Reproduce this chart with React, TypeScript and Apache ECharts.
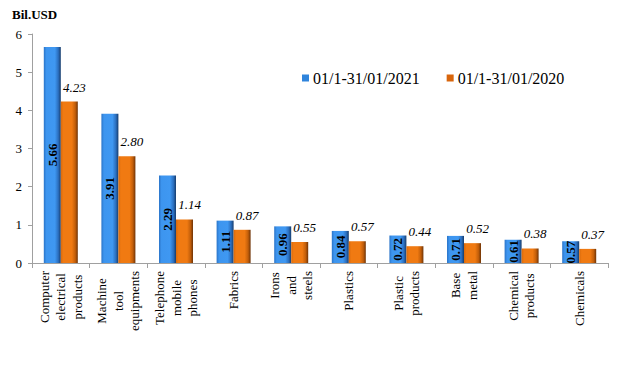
import React, { useEffect, useRef } from "react";
import * as echarts from "echarts";

const categories = [
  "Computer\nelectrical\nproducts",
  "Machine\ntool\nequipments",
  "Telephone\nmobile\nphones",
  "Fabrics",
  "Irons\nand\nsteels",
  "Plastics",
  "Plastic\nproducts",
  "Base\nmetal",
  "Chemical\nproducts",
  "Chemicals",
];
const series2021 = [5.66, 3.91, 2.29, 1.11, 0.96, 0.84, 0.72, 0.71, 0.61, 0.57];
const series2020 = [4.23, 2.8, 1.14, 0.87, 0.55, 0.57, 0.44, 0.52, 0.38, 0.37];
const seriesNames = ["01/1-31/01/2021", "01/1-31/01/2020"];
const yTicks = { min: 0, max: 6, interval: 1 };

const FONT = "'Liberation Serif', 'Times New Roman', serif";

export default function App() {
  const ref = useRef<HTMLDivElement>(null);
  useEffect(() => {
    if (!ref.current) return;
    const chart = echarts.init(ref.current, null, { renderer: "svg" });
    const blue = new echarts.graphic.LinearGradient(0, 0, 1, 0, [
      { offset: 0, color: "#2a74c8" },
      { offset: 0.15, color: "#3d95ef" },
      { offset: 0.65, color: "#3f98f2" },
      { offset: 0.85, color: "#2b6fbf" },
      { offset: 1, color: "#163c6c" },
    ]);
    const orange = new echarts.graphic.LinearGradient(0, 0, 1, 0, [
      { offset: 0, color: "#d86a0c" },
      { offset: 0.15, color: "#f07a12" },
      { offset: 0.65, color: "#f07a12" },
      { offset: 0.85, color: "#c25e0a" },
      { offset: 1, color: "#6e3306" },
    ]);
    chart.setOption({
      animation: false,
      textStyle: { fontFamily: FONT },
      grid: { left: 32, right: 16, top: 34, bottom: 102, containLabel: false },
      graphic: [
        {
          type: "text",
          left: 12,
          top: 8,
          style: {
            text: "Bil.USD",
            font: `bold 13px ${FONT}`,
            fill: "#000",
          },
        },
      ],
      legend: {
        left: 297,
        top: 65,
        itemWidth: 7,
        itemHeight: 7,
        itemGap: 27,
        icon: "rect",
        textStyle: { fontFamily: FONT, fontSize: 16, color: "#000", padding: [0, 0, 0, -1] },
        data: [
          { name: seriesNames[0], itemStyle: { color: "#2f84dc" } },
          { name: seriesNames[1], itemStyle: { color: "#d8650c" } },
        ],
      },
      xAxis: {
        type: "category",
        data: categories,
        axisLine: { show: true, lineStyle: { color: "#a0a0a0" } },
        axisTick: { show: true, length: 5, lineStyle: { color: "#a0a0a0" } },
        axisLabel: {
          rotate: 90,
          margin: 8,
          interval: 0,
          fontFamily: FONT,
          fontSize: 13,
          color: "#000",
          lineHeight: 16.5,
          formatter: (v: string) =>
            v
              .split("\n")
              .map((l) => `{c|${l}}`)
              .join("\n"),
          rich: {
            c: { align: "center", fontFamily: FONT, fontSize: 13, color: "#000", lineHeight: 16.5 },
          },
        },
      },
      yAxis: {
        type: "value",
        min: yTicks.min,
        max: yTicks.max,
        interval: yTicks.interval,
        axisLine: { show: true, lineStyle: { color: "#a0a0a0" } },
        axisTick: { show: true, length: 4, lineStyle: { color: "#a0a0a0" } },
        splitLine: { show: false },
        axisLabel: { fontFamily: FONT, fontSize: 13, color: "#000", margin: 10 },
      },
      series: [
        {
          name: seriesNames[0],
          type: "bar",
          data: series2021,
          barWidth: 17,
          barGap: "0%",
          itemStyle: { color: blue },
          label: {
            show: true,
            position: "inside",
            rotate: 90,
            fontFamily: FONT,
            fontSize: 13,
            fontWeight: "bold",
            color: "#000",
            formatter: (p: any) => p.value.toFixed(2),
          },
        },
        {
          name: seriesNames[1],
          type: "bar",
          data: series2020,
          barWidth: 17,
          itemStyle: { color: orange },
          label: {
            show: true,
            position: "top",
            distance: 8,
            offset: [5, 0],
            fontFamily: FONT,
            fontSize: 13,
            fontStyle: "italic",
            color: "#000",
            formatter: (p: any) => p.value.toFixed(2),
          },
        },
      ],
    });
    return () => chart.dispose();
  }, []);
  return (
    <div
      ref={ref}
      style={{ position: "absolute", left: 0, top: 0, width: 624, height: 365 }}
    />
  );
}
